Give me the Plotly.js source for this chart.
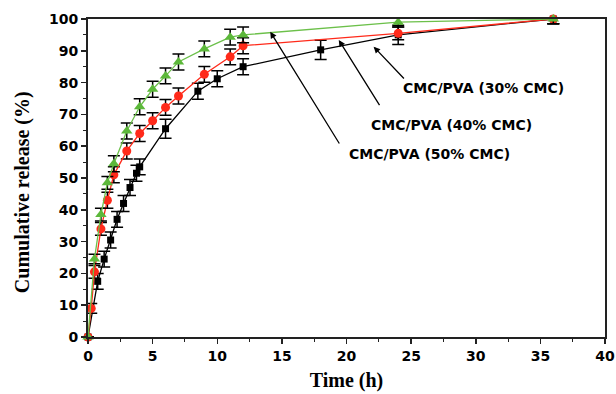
<!DOCTYPE html>
<html>
<head>
<meta charset="utf-8">
<script src="https://cdn.plot.ly/plotly-3.0.1.min.js"></script>
<style>html,body{margin:0;padding:0;background:#fff;}#chart{width:616px;height:394px;}</style>
</head>
<body>
<div id="chart"></div>
<script>
// Data
const greenTime = [0, 0.5, 1, 1.5, 2, 3, 4, 5, 6, 7, 9, 11, 12, 24, 36];
const greenRelease = [0, 24.5, 38.5, 48.5, 54.5, 64.8, 72.4, 77.9, 82.1, 86.5, 90.6, 94.3, 95, 99, 100];
const greenErr = [0, 1.5, 2, 2, 2.5, 2.5, 2.5, 2.5, 2.5, 2.5, 2.5, 2.5, 2.5, 1.5, 1.5];

const redTime = [0, 0.25, 0.5, 1, 1.5, 2, 3, 4, 5, 6, 7, 9, 11, 12, 24, 36];
const redRelease = [0, 9, 20.5, 34, 43, 51, 58.5, 64, 68, 72.2, 75.8, 82.6, 88.1, 91.6, 95.5, 100];
const redErr = [0, 1.5, 2, 2, 2.5, 2.5, 2.5, 2.5, 2.5, 2.5, 2.5, 2.5, 2.5, 2.5, 2, 1.5];

const blackTime = [0, 0.75, 1.25, 1.75, 2.25, 2.75, 3.25, 3.75, 4, 6, 8.5, 10, 12, 18, 24, 36];
const blackRelease = [0, 17.5, 24.5, 30.5, 37, 42, 47, 51.5, 53.5, 65.5, 77.3, 81.2, 85, 90.3, 95, 100];
const blackErr = [0, 2.5, 2.5, 2.5, 2.5, 2.5, 2.5, 2.5, 2.5, 3, 2.5, 2.5, 2.5, 3, 3, 1.5];

const labels = ['CMC/PVA (30% CMC)', 'CMC/PVA (40% CMC)', 'CMC/PVA (50% CMC)'];
const xTitle = 'Time (h)';
const yTitle = 'Cumulative release (%)';

function errBar(arr) {
  return {type: 'data', array: arr, visible: true, color: '#000', thickness: 1.5, width: 6};
}

const traces = [
  {x: blackTime, y: blackRelease, error_y: errBar(blackErr), mode: 'lines+markers', cliponaxis: false,
   line: {color: '#000', width: 1.3}, marker: {symbol: 'square', size: 7, color: '#000'}},
  {x: redTime, y: redRelease, error_y: errBar(redErr), mode: 'lines+markers', cliponaxis: false,
   line: {color: '#ff2a1a', width: 1.3}, marker: {symbol: 'circle', size: 9, color: '#ff2a1a'}},
  {x: greenTime, y: greenRelease, error_y: errBar(greenErr), mode: 'lines+markers', cliponaxis: false,
   line: {color: '#6cc04a', width: 1.3}, marker: {symbol: 'triangle-up', size: 10, color: '#5cb83a'}}
];

const annFont = {family: 'DejaVu Sans', size: 14, color: '#000', weight: 'bold'};
const titleFont = {family: 'Liberation Serif', size: 20, color: '#000', weight: 'bold'};
const arrow = {showarrow: true, text: '', arrowhead: 2, arrowsize: 1, arrowwidth: 1.3, arrowcolor: '#000', xref: 'x', yref: 'y', axref: 'pixel', ayref: 'pixel'};

const layout = {
  width: 616, height: 394,
  margin: {l: 88, r: 11, t: 19, b: 57},
  paper_bgcolor: '#fff', plot_bgcolor: '#fff',
  showlegend: false,
  font: {family: 'DejaVu Sans', color: '#000'},
  xaxis: {
    range: [0, 40], dtick: 5, tick0: 0,
    showgrid: false, zeroline: false,
    showline: true, linecolor: '#222', linewidth: 2, mirror: true,
    ticks: 'outside', ticklen: 5, tickwidth: 1.5, tickcolor: '#222',
    ticklabeloverflow: 'allow',
    minor: {dtick: 2.5, ticks: 'outside', ticklen: 3, tickwidth: 1, tickcolor: '#222'},
    tickfont: {family: 'DejaVu Sans', size: 14, color: '#000', weight: 'bold'},
    title: {text: xTitle, font: titleFont, standoff: 10}
  },
  yaxis: {
    range: [0, 100], dtick: 10, tick0: 0,
    showgrid: false, zeroline: false,
    showline: true, linecolor: '#222', linewidth: 2, mirror: true,
    ticks: 'outside', ticklen: 5, tickwidth: 1.5, tickcolor: '#222',
    ticklabeloverflow: 'allow',
    minor: {dtick: 5, ticks: 'outside', ticklen: 3, tickwidth: 1, tickcolor: '#222'},
    tickfont: {family: 'DejaVu Sans', size: 14, color: '#000', weight: 'bold'}
  },
  annotations: [
    Object.assign({}, arrow, {x: 22.1, y: 91.3, ax: 31.7, ay: 33.3}),
    Object.assign({}, arrow, {x: 19.4, y: 93.4, ax: 41.7, ay: 66.7}),
    Object.assign({}, arrow, {x: 14.1, y: 96.0, ax: 70, ay: 113.3}),
    {x: 30.6, y: 78.3, xref: 'x', yref: 'y', text: labels[0], showarrow: false, font: annFont},
    {x: 28.1, y: 66.7, xref: 'x', yref: 'y', text: labels[1], showarrow: false, font: annFont},
    {x: 26.4, y: 57.5, xref: 'x', yref: 'y', text: labels[2], showarrow: false, font: annFont},
    {x: -0.128, y: 0.455, xref: 'paper', yref: 'paper', xanchor: 'center', yanchor: 'middle',
     text: yTitle, textangle: -90, showarrow: false, font: titleFont}
  ]
};

Plotly.newPlot('chart', traces, layout, {staticPlot: true, displayModeBar: false});
</script>
</body>
</html>
